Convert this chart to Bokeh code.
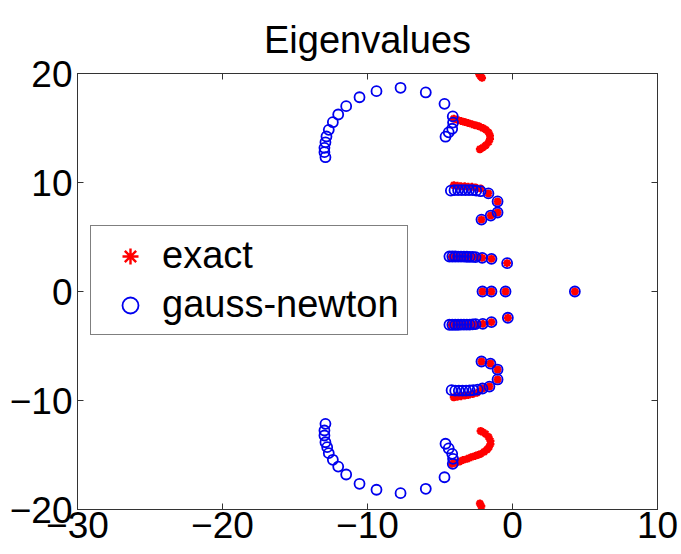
from bokeh.plotting import figure
from bokeh.models import LinearAxis, FixedTicker, Range1d, Legend, LegendItem, CustomJSTickFormatter
from bokeh.embed import file_html
from bokeh.resources import INLINE

# exact eigenvalues (red)
exact_re = [4.3, -0.48, -1.45, -2.07,
            -0.37, -1.45, -2.09, -2.5, -2.75, -3.0, -3.25, -3.5, -3.75, -4.0, -4.2,
            -2.14, -1.5, -1.03, -1.03, -1.66, -2.2, -2.55, -2.8, -3.05, -3.3, -3.55, -3.8, -4.05,
            -4.05, -3.8, -3.55, -3.3, -3.05, -2.8, -2.55, -2.3, -2.05, -1.85, -1.65, -1.55, -1.55, -1.65, -1.85, -2.05, -2.25,
            -2.3, -2.2, -2.1,
            -0.32, -1.45, -2.05, -2.5, -2.75, -3.0, -3.25, -3.5, -3.75, -4.0, -4.2,
            -2.14, -1.52, -1.03, -1.03, -1.59, -2.07, -2.45, -2.75, -3.05, -3.3, -3.55, -3.8, -4.05,
            -4.16, -3.9, -3.65, -3.4, -3.12, -2.85, -2.6, -2.4, -2.2, -1.95, -1.75, -1.63, -1.52, -1.52, -1.65, -1.86, -2.05, -2.2,
            -2.25, -2.15]
exact_im = [0.0, 0.0, 0.0, 0.0,
            2.6, 3.0, 3.09, 3.15, 3.15, 3.15, 3.15, 3.15, 3.15, 3.15, 3.15,
            6.6, 6.97, 7.25, 8.26, 9.0, 9.45, 9.55, 9.6, 9.6, 9.65, 9.65, 9.7, 9.75,
            15.85, 15.75, 15.65, 15.55, 15.45, 15.35, 15.25, 15.15, 15.0, 14.85, 14.6, 14.3, 14.0, 13.7, 13.4, 13.2, 13.05,
            19.95, 19.75, 19.6,
            -2.41, -2.81, -2.97, -3.05, -3.05, -3.05, -3.05, -3.05, -3.05, -3.05, -3.05,
            -6.42, -6.61, -7.16, -8.07, -8.72, -8.9, -9.3, -9.4, -9.5, -9.55, -9.6, -9.65, -9.7,
            -15.8, -15.7, -15.6, -15.45, -15.35, -15.2, -15.1, -15.0, -14.9, -14.7, -14.5, -14.3, -14.0, -13.7, -13.35, -13.06, -12.9, -12.8,
            -19.45, -19.7]

# gauss-newton eigenvalues (blue)
gn_re = [4.3, -0.48, -1.45, -2.07,
         -0.37, -1.45, -2.09, -2.55, -2.75, -2.95, -3.15, -3.35, -3.55, -3.75, -3.95, -4.15, -4.35,
         -2.14, -1.5, -1.03, -1.03, -1.66, -2.2, -2.5, -2.75, -3.0, -3.25, -3.5, -3.75, -4.0, -4.25,
         -4.62, -4.4, -4.16, -4.1, -4.12, -4.69, -5.98, -7.72, -9.38, -10.55, -11.47, -12.02, -12.39, -12.67, -12.83, -12.9, -12.97, -12.97, -12.9,
         -0.32, -1.45, -2.05, -2.55, -2.75, -2.95, -3.15, -3.35, -3.55, -3.75, -3.95, -4.15, -4.35,
         -2.14, -1.52, -1.03, -1.03, -1.59, -2.07, -2.4, -2.7, -2.95, -3.2, -3.45, -3.7, -3.95, -4.2,
         -4.62, -4.4, -4.16, -4.1, -4.12, -4.69, -5.98, -7.72, -9.38, -10.55, -11.47, -12.02, -12.39, -12.67, -12.78, -12.9, -12.97, -12.97, -12.9]
gn_im = [0.0, 0.0, 0.0, 0.0,
         2.6, 3.0, 3.09, 3.15, 3.17, 3.18, 3.19, 3.2, 3.2, 3.2, 3.21, 3.21, 3.21,
         6.6, 6.97, 7.25, 8.26, 9.0, 9.2, 9.25, 9.3, 9.3, 9.3, 9.3, 9.3, 9.3, 9.25,
         14.2, 14.6, 14.93, 15.5, 16.06, 17.22, 18.26, 18.69, 18.38, 17.82, 17.0, 16.24, 15.53, 14.83, 14.22, 13.69, 13.18, 12.78, 12.32,
         -2.41, -2.81, -2.97, -3.0, -3.02, -3.03, -3.03, -3.04, -3.04, -3.05, -3.05, -3.05, -3.05,
         -6.42, -6.61, -7.16, -8.07, -8.72, -8.9, -9.0, -9.05, -9.08, -9.1, -9.1, -9.1, -9.1, -9.05,
         -13.97, -14.4, -14.89, -15.35, -15.81, -17.04, -18.1, -18.5, -18.19, -17.64, -16.79, -16.06, -15.44, -14.83, -14.28, -13.83, -13.21, -12.75, -12.14]

x_ticks = [-30, -20, -10, 0, 10]
y_ticks = [-20, -10, 0, 10, 20]

FONT = "Liberation Sans"
AX = "#333333"

p = figure(width=681, height=554, x_range=Range1d(-30, 10), y_range=Range1d(-20, 20),
           output_backend="svg", toolbar_location=None, title="Eigenvalues",
           min_border_left=77, min_border_right=24, min_border_top=73, min_border_bottom=45)
p.background_fill_color = "white"
p.border_fill_color = "white"
p.grid.visible = False
p.outline_line_color = AX
p.outline_line_width = 1

p.title.align = "center"
p.title.offset = -5
p.title.text_font = FONT
p.title.text_font_size = "38px"
p.title.text_font_style = "normal"
p.title.text_color = "black"
p.title.standoff = 26

for ax, ticks in ((p.xaxis[0], x_ticks), (p.yaxis[0], y_ticks)):
    ax.ticker = FixedTicker(ticks=ticks)
    ax.major_label_text_font = FONT
    ax.major_label_text_font_size = "37px"
    ax.major_label_text_color = "black"
    ax.axis_line_color = AX
    ax.major_tick_line_color = AX
    ax.major_tick_in = 6
    ax.major_tick_out = 0
    ax.minor_tick_line_color = None
p.xaxis[0].major_label_standoff = 2
p.yaxis[0].major_label_standoff = 5

blank = CustomJSTickFormatter(code="return '';")
top_ax = LinearAxis(ticker=FixedTicker(ticks=x_ticks), formatter=blank,
                    major_label_standoff=0, axis_line_color=AX, major_tick_line_color=AX,
                    major_tick_in=6, major_tick_out=0, minor_tick_line_color=None)
right_ax = LinearAxis(ticker=FixedTicker(ticks=y_ticks), formatter=blank,
                      major_label_standoff=0, axis_line_color=AX, major_tick_line_color=AX,
                      major_tick_in=6, major_tick_out=0, minor_tick_line_color=None)
p.add_layout(top_ax, "above")
p.add_layout(right_ax, "right")

red = p.scatter(exact_re, exact_im, marker="asterisk", size=8, line_color="#ff0000", line_width=2.4)
blue = p.scatter(gn_re, gn_im, marker="circle", size=10, fill_color=None, line_color="#0000ee", line_width=1.8)

legend = Legend(items=[LegendItem(label="exact", renderers=[red]),
                       LegendItem(label="gauss-newton", renderers=[blue])],
                location=(13, 174), margin=0, padding=8, spacing=6,
                glyph_width=62, glyph_height=40, label_height=40, label_standoff=1,
                label_text_font=FONT, label_text_font_size="38px", label_text_color="black",
                border_line_color="black", border_line_width=1,
                background_fill_color="white", background_fill_alpha=1.0)
p.add_layout(legend)

open("out.html", "w").write(file_html(p, INLINE))
